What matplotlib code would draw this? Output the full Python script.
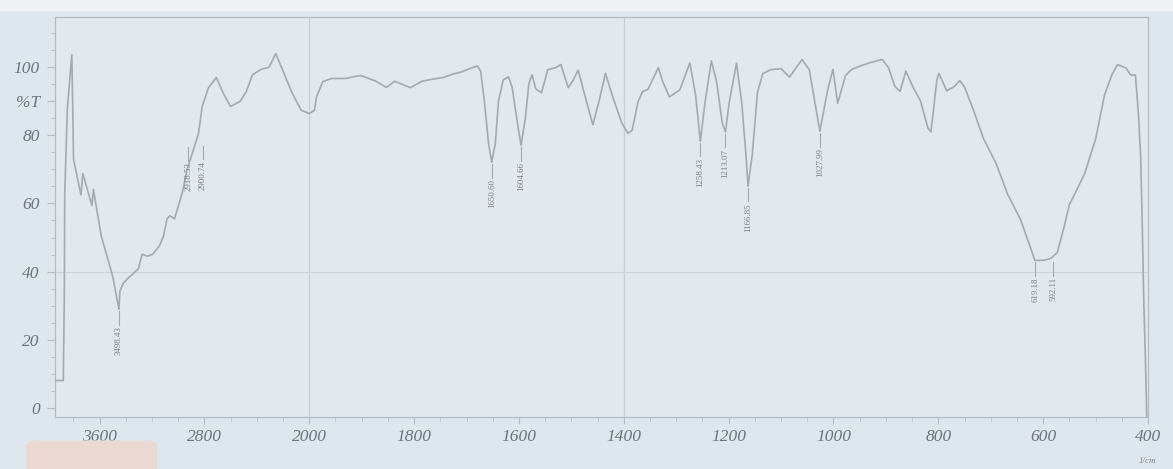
import numpy as np
import matplotlib
matplotlib.use("Agg")
import matplotlib.pyplot as plt
from matplotlib.patches import FancyBboxPatch, Rectangle
from matplotlib.ticker import FixedLocator

# ---- data ----
wavenumber = [3941, 3877, 3869, 3866, 3846, 3812, 3803, 3799, 3742, 3728,
              3658, 3647, 3587, 3543, 3500, 3452, 3445, 3420, 3384, 3340,
              3303, 3276, 3233, 3194, 3144, 3112, 3085, 3063, 3028, 2998,
              2967, 2934, 2890, 2846, 2817, 2770, 2709, 2654, 2601, 2527,
              2482, 2433, 2367, 2307, 2256, 2201, 2134, 2062, 2000, 1990,
              1986, 1974, 1958, 1931, 1902, 1874, 1853, 1837, 1807, 1785,
              1765, 1744, 1726, 1710, 1696, 1679, 1673, 1666, 1658, 1652,
              1645, 1639, 1630, 1620, 1613, 1601, 1596, 1588, 1581, 1575,
              1568, 1557, 1545, 1530, 1520, 1506, 1497, 1487, 1475, 1459,
              1446, 1435, 1420, 1404, 1392, 1384, 1373, 1364, 1354, 1334,
              1326, 1313, 1293, 1274, 1263, 1254, 1245, 1233, 1223, 1212,
              1206, 1199, 1185, 1175, 1167, 1163, 1155, 1145, 1135, 1120,
              1100, 1084, 1060, 1046, 1035, 1026, 1011, 1001, 992, 977,
              965, 945, 927, 907, 895, 883, 873, 862, 849, 834,
              820, 814, 803, 799, 784, 770, 759, 750, 732, 714,
              690, 668, 643, 621, 616, 599, 585, 573, 560, 550,
              540, 521, 500, 483, 469, 458, 442, 433, 424, 418,
              414, 411, 408, 405, 402]
transmittance = [8.0, 8.0, 32.7, 62.5, 87.8, 103.7, 84.7, 73.0, 62.5, 68.8,
                 59.4, 64.1, 50.4, 44.5, 38.6, 28.9, 34.2, 36.5, 38.0, 39.5,
                 40.9, 45.1, 44.5, 45.1, 47.5, 50.4, 55.5, 56.4, 55.5, 59.3,
                 63.4, 69.7, 75.0, 80.4, 88.5, 93.9, 97.0, 92.2, 88.5, 90.0,
                 92.8, 97.8, 99.4, 100.0, 104.0, 99.0, 92.7, 87.4, 86.4, 87.4,
                 91.4, 95.8, 96.7, 96.7, 97.6, 96.0, 94.1, 95.9, 94.0, 95.9,
                 96.5, 97.0, 98.0, 98.6, 99.5, 100.4, 98.8, 90.1, 77.7, 72.1,
                 77.7, 90.1, 96.3, 97.2, 94.1, 81.7, 77.1, 84.8, 95.3, 97.8,
                 93.7, 92.5, 99.3, 99.9, 100.8, 94.0, 96.1, 99.2, 92.1, 83.1,
                 90.8, 98.2, 90.8, 83.7, 80.6, 81.5, 89.8, 92.9, 93.5, 99.9,
                 95.9, 91.3, 93.4, 101.3, 91.8, 78.3, 89.7, 101.9, 95.8, 83.5,
                 81.0, 89.6, 101.2, 89.6, 74.3, 65.1, 74.3, 92.6, 98.1, 99.3,
                 99.6, 97.1, 102.3, 99.2, 89.4, 81.2, 93.4, 99.4, 89.4, 97.6,
                 99.4, 100.6, 101.5, 102.3, 99.9, 94.4, 92.9, 98.9, 94.4, 90.1,
                 82.2, 81.0, 96.1, 98.2, 93.1, 94.3, 96.1, 94.2, 87.0, 79.1,
                 71.8, 62.8, 55.2, 45.6, 43.3, 43.3, 43.9, 45.6, 53.2, 59.7,
                 62.7, 68.7, 78.9, 91.8, 97.8, 100.8, 99.8, 97.7, 97.7, 85.7,
                 73.7, 54.0, 30.8, 14.4, -5.4]

peak_text = ["3498.43", "2918.53", "2900.74", "1650.60", "1604.66", "1258.43",
             "1213.07", "1166.85", "1027.99", "619.18", "592.11"]
peak_pos = [3452, 2923, 2812, 1652, 1596, 1254, 1206, 1163, 1026, 615, 581]
peak_top = [28.9, 77.0, 77.5, 72.1, 77.1, 78.3, 81.0, 65.1, 81.2, 43.3, 43.3]

x_ticks = [3600, 2800, 2000, 1800, 1600, 1400, 1200, 1000, 800, 600, 400]
x_tick_labels = ["3600", "2800", "2000", "1800", "1600", "1400", "1200",
                 "1000", "800", "600", "400"]
y_ticks = [0, 20, 40, 60, 80, 90, 100]
y_tick_labels = ["0", "20", "40", "60", "80", "%T", "100"]

# ---- styling ----
paper = "#dfe7ee"
line_col = "#a3aab2"
text_col = "#6c757f"
frame_col = "#b3bcc5"


def fwd(w):
    # increasing in w; 4x compressed above 2000 1/cm
    w = np.asarray(w, dtype=float)
    return np.where(w >= 2000, -2 + (w - 2000) / 800.0, -2 - (2000 - w) / 200.0)


def inv(u):
    u = np.asarray(u, dtype=float)
    return np.where(u >= -2, 2000 + 800.0 * (u + 2), 2000 + 200.0 * (u + 2))


fig = plt.figure(figsize=(11.73, 4.69), dpi=100, facecolor=paper)
fig.patches.append(Rectangle((0, 0.978), 1, 0.022, transform=fig.transFigure,
                             color="#eef2f5", zorder=0))
fig.patches.append(FancyBboxPatch((0.028, -0.03), 0.10, 0.085,
                                  boxstyle="round,pad=0.006,rounding_size=0.012",
                                  transform=fig.transFigure, color="#e9d9d2",
                                  ec="none", zorder=0))

ax = fig.add_axes([0.0469, 0.111, 0.9318, 0.853])
ax.set_facecolor("#e1e9ef")
ax.set_xscale("function", functions=(fwd, inv))
ax.set_xlim(3940, 400)
ax.set_ylim(-2.7, 114.8)

for gx in (2000, 1400):
    ax.axvline(gx, color="#c7d0d8", lw=0.9, zorder=1)
ax.axhline(40, color="#cdd5dc", lw=0.8, zorder=1)

ax.plot(wavenumber, transmittance, color=line_col, lw=1.2, zorder=3)

for txt, pos, top in zip(peak_text, peak_pos, peak_top):
    ax.plot([pos, pos], [top - 0.5, top - 4.5], color=line_col, lw=0.8, zorder=3)
    ax.text(pos, top - 5.0, txt, rotation=90, ha="center", va="top",
            fontsize=6.4, color="#78818a", family="Liberation Serif", zorder=4)

ax.set_xticks(x_ticks)
ax.set_xticklabels(x_tick_labels)
minor_x = [3800, 3400, 3200, 3000, 2600, 2400, 2200] + list(range(1950, 400, -50))
ax.xaxis.set_minor_locator(FixedLocator(minor_x))
ax.set_yticks(y_ticks)
ax.set_yticklabels(y_tick_labels)
ax.yaxis.set_minor_locator(FixedLocator(list(range(0, 111, 5))))

for lab in ax.get_xticklabels() + ax.get_yticklabels():
    lab.set_fontfamily("Liberation Serif")
    lab.set_fontstyle("italic")
    lab.set_fontsize(12.5)
    lab.set_color(text_col)

ax.tick_params(axis="x", which="major", direction="out", length=5,
               width=0.8, color=frame_col, pad=4)
ax.tick_params(axis="y", which="major", direction="out", length=6,
               width=0.8, color=frame_col, pad=5)
ax.tick_params(axis="both", which="minor", direction="out", length=3,
               width=0.6, color=frame_col)
for sp in ax.spines.values():
    sp.set_color(frame_col)
    sp.set_linewidth(0.9)

fig.text(0.978, 0.008, "1/cm", fontsize=6.5, style="italic", color="#7b848d",
         family="Liberation Serif", ha="center", va="bottom")

fig.savefig("out.png", dpi=100, facecolor=paper)
